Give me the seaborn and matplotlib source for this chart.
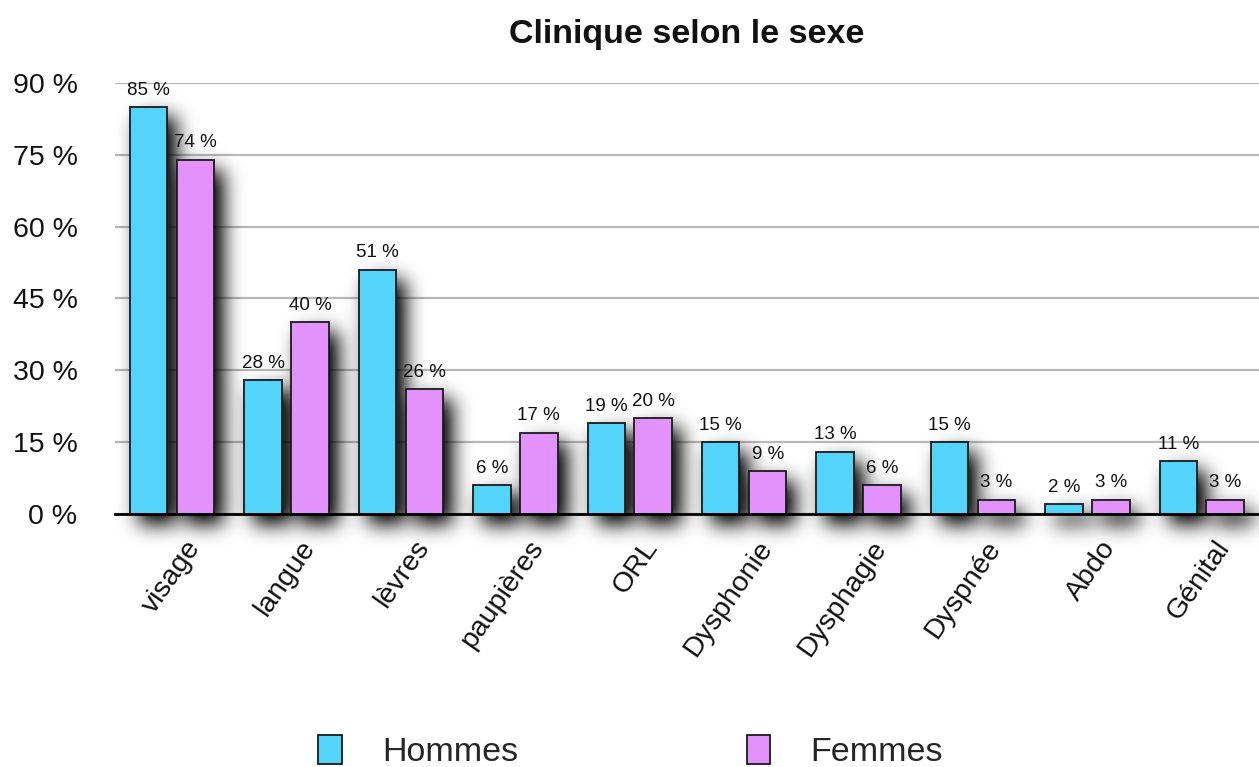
import numpy as np
import pandas as pd
import matplotlib
matplotlib.use("Agg")
import matplotlib.pyplot as plt
import matplotlib.transforms as mtransforms
from matplotlib.collections import PatchCollection
from matplotlib.patches import Rectangle, Patch
import seaborn as sns

# Symptom locations and share of patients (%) by sex
zones = ["visage", "langue", "lèvres", "paupières", "ORL",
         "Dysphonie", "Dysphagie", "Dyspnée", "Abdo", "Génital"]
hommes = [85, 28, 51, 6, 19, 15, 13, 15, 2, 11]
femmes = [74, 40, 26, 17, 20, 9, 6, 3, 3, 3]
series = ["Hommes", "Femmes"]
y_ticks = [0, 15, 30, 45, 60, 75, 90]

CYAN = "#55D4FB"
PINK = "#E392FD"

df = pd.DataFrame({
    "zone": zones * 2,
    "pct": hommes + femmes,
    "sexe": [series[0]] * len(zones) + [series[1]] * len(zones),
})

sns.set_style("white")
plt.rcParams["font.family"] = ["Liberation Sans", "DejaVu Sans"]

fig = plt.figure(figsize=(12.59, 7.67), dpi=100)
ax = fig.add_axes([0.0913, 0.3299, 0.9087, 0.5619])

sns.barplot(data=df, x="zone", y="pct", hue="sexe", order=zones,
            hue_order=series, palette=[CYAN, PINK], width=0.82, gap=0.2,
            edgecolor="#1a1a1a", linewidth=1.3, saturation=1, ax=ax,
            legend=False, zorder=3)


# Soft drop shadow behind each bar
def gaussian_blur_shadow(im, dpi, sigma=10.0, dx=9, dy=10, strength=1.1):
    pad = int(3 * sigma) + max(dx, dy)
    a = np.pad(im, ((pad, pad), (pad, pad), (0, 0)))
    a = np.roll(a, dx, axis=1)
    a = np.roll(a, dy, axis=0)
    r = int(3 * sigma)
    k = np.exp(-0.5 * (np.arange(-r, r + 1) / sigma) ** 2)
    k /= k.sum()
    alpha = a[:, :, 3]
    out = np.zeros_like(alpha)
    for i, w in enumerate(k):
        out += w * np.roll(alpha, i - r, axis=1)
    out2 = np.zeros_like(out)
    for i, w in enumerate(k):
        out2 += w * np.roll(out, i - r, axis=0)
    res = np.zeros_like(a)
    res[:, :, 3] = np.clip(out2 * strength, 0, 0.85)
    return res, -pad, -pad


bars = list(ax.patches)
shadows = PatchCollection(
    [Rectangle(b.get_xy(), b.get_width(), b.get_height()) for b in bars],
    facecolor="black", edgecolor="none", alpha=1.0, zorder=2.5)
shadows.set_agg_filter(gaussian_blur_shadow)
shadows.set_rasterized(True)
shadows.set_clip_on(False)
ax.add_collection(shadows)

# Value labels above the bars
for cont, vals in zip(ax.containers, [hommes, femmes]):
    ax.bar_label(cont, labels=[f"{v} %" for v in vals], padding=6,
                 fontsize=13.5, color="#111111", zorder=5)

ax.set_xlim(-0.5, len(zones) - 0.5)
ax.set_ylim(0, 90)
ax.set_yticks(y_ticks)
ax.set_yticklabels([f"{t} %" for t in y_ticks])
ax.set_xlabel("")
ax.set_ylabel("")

ax.yaxis.grid(True, color="#b8b8b8", linewidth=1.6, zorder=0)
ax.set_axisbelow(True)
for s in ["top", "right", "left"]:
    ax.spines[s].set_visible(False)
ax.spines["bottom"].set_color("black")
ax.spines["bottom"].set_linewidth(2)
ax.spines["bottom"].set_zorder(6)

ax.tick_params(axis="y", length=0, pad=27, labelsize=20.5, labelcolor="#111111")
ax.tick_params(axis="x", length=0, pad=21, labelsize=20.5, labelcolor="#111111")
offset = mtransforms.ScaledTranslation(23 / 100, 0, fig.dpi_scale_trans)
for lab in ax.get_xticklabels():
    lab.set_rotation(55)
    lab.set_ha("right")
    lab.set_va("center")
    lab.set_rotation_mode("anchor")
    lab.set_transform(lab.get_transform() + offset)

ax.set_title("Clinique selon le sexe", fontsize=24.5, fontweight="bold",
             pad=29, color="#111111")

handles = [Patch(facecolor=CYAN, edgecolor="#1a1a1a", linewidth=1.3),
           Patch(facecolor=PINK, edgecolor="#1a1a1a", linewidth=1.3)]
fig.legend(handles, series, loc="center", bbox_to_anchor=(0.501, 0.02),
           ncol=2, frameon=False, fontsize=24.5, handlelength=0.68,
           handleheight=0.95, handletextpad=1.2, columnspacing=6.7)

fig.savefig("out.png", dpi=100, facecolor="white")
